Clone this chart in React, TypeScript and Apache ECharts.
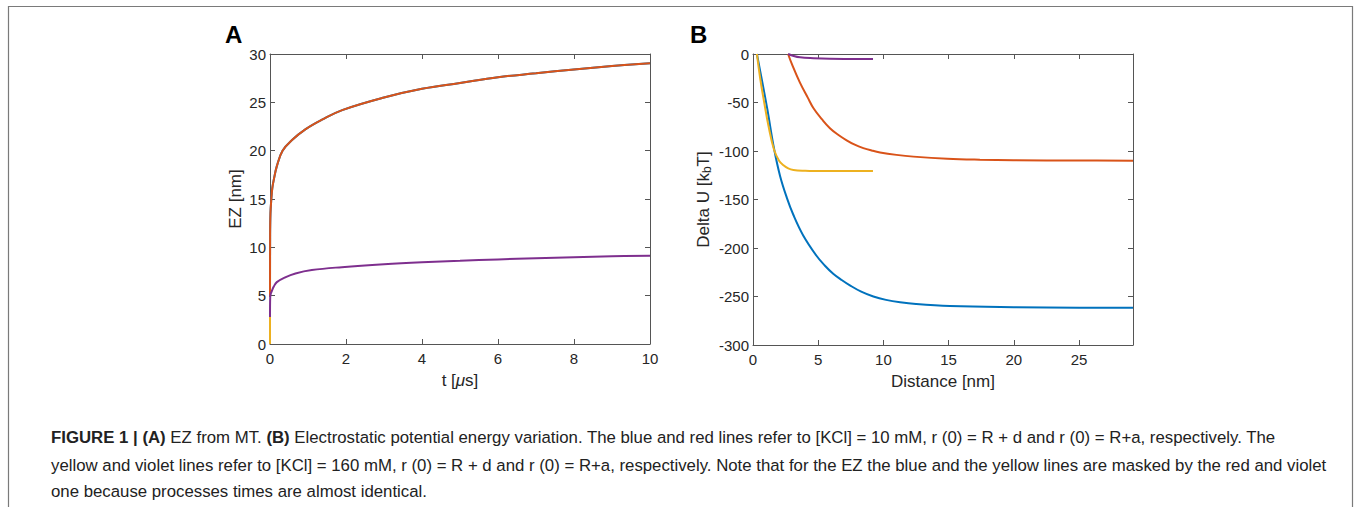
import React, { useEffect, useRef } from "react";
import * as echarts from "echarts";

// ---- Panel A: EZ from MT (t in microseconds, EZ in nm)
const ezRed: [number, number][] = [
  [0, 4.9], [0.003, 11], [0.012, 13.5], [0.035, 15], [0.06, 16.1], [0.1, 17],
  [0.18, 18.4], [0.33, 20], [0.58, 21.1], [0.93, 22.2], [1.37, 23.2], [1.9, 24.2],
  [3, 25.5], [4, 26.4], [5, 27.0], [6, 27.6], [7, 28.0], [8, 28.4], [9, 28.75], [10, 29.05],
];
// blue is masked by the red line (almost identical process times)
const ezBlue: [number, number][] = ezRed;
const ezYellow: [number, number][] = [[0, 0], [0, 2.8]];
const ezViolet: [number, number][] = [
  [0, 2.8], [0.005, 4.8], [0.02, 5.2], [0.05, 5.5], [0.1, 5.95], [0.18, 6.4],
  [0.4, 6.9], [0.67, 7.3], [1.1, 7.65], [1.89, 7.95], [3, 8.25], [4, 8.45],
  [5, 8.6], [6, 8.75], [7, 8.87], [8, 8.97], [9, 9.07], [10, 9.14],
];

// ---- Panel B: Delta U [kbT] vs distance [nm]
const uBlue: [number, number][] = [
  [0.3, 0], [0.7, -28], [1.1, -57], [1.62, -98], [2.08, -126], [2.59, -148],
  [3.1, -166], [3.85, -187], [4.87, -208], [5.5, -218], [6.15, -226.5], [6.8, -233],
  [7.43, -238.5], [8.3, -245], [9.23, -250], [10.2, -253.5], [11.28, -256],
  [12.5, -257.8], [15.1, -259.8], [20, -261], [25, -261.5], [29.14, -261.7],
];
const uRed: [number, number][] = [
  [2.69, 0], [3.0, -11], [3.6, -29.5], [4.2, -45], [4.64, -55.9], [5.3, -67.5],
  [5.9, -76.5], [6.5, -83], [7.18, -89], [7.8, -93.5], [8.46, -97], [9.1, -99.5],
  [9.74, -101.5], [11, -104], [12.3, -105.8], [14.9, -108], [17.4, -109],
  [20, -109.5], [25, -109.8], [29.14, -110],
];
const uYellow: [number, number][] = [
  [0.3, 0], [0.55, -25], [0.86, -50], [1.2, -75], [1.62, -99], [2.0, -110],
  [2.31, -114.5], [2.7, -118], [3.1, -119.6], [4, -120.4], [4.87, -120.6], [9.2, -120.7],
];
const uViolet: [number, number][] = [
  [2.69, 0], [3.0, -1.5], [3.6, -3.4], [4.64, -4.4], [5.9, -5.0], [7, -5.1], [9.2, -5.1],
];

const captionLines = [
  "{b|FIGURE 1 | (A)} EZ from MT. {b|(B)} Electrostatic potential energy variation. The blue and red lines refer to [KCl] = 10 mM, r (0) = R + d and r (0) = R+a, respectively. The",
  "yellow and violet lines refer to [KCl] = 160 mM, r (0) = R + d and r (0) = R+a, respectively. Note that for the EZ the blue and the yellow lines are masked by the red and violet",
  "one because processes times are almost identical.",
];

const BLUE = "#0072BD";
const RED = "#D95319";
const YELLOW = "#EDB120";
const VIOLET = "#7E2F8E";
const AXIS = "#555555";
const TEXT = "#262626";
const FONT = "Liberation Sans, Arial, sans-serif";
const CAP = 16.8;

function mainX(grid: number, min: number, max: number, interval: number, name: string, rich: any) {
  return {
    type: "value", gridIndex: grid, min, max, interval, position: "bottom",
    axisLine: { show: true, onZero: false, lineStyle: { color: AXIS, width: 1 } },
    axisTick: { show: true, inside: true, length: 5, lineStyle: { color: AXIS } },
    axisLabel: { color: TEXT, fontSize: 15, fontFamily: FONT, margin: 7, showMaxLabel: max === 10 },
    splitLine: { show: false },
    name, nameLocation: "middle", nameGap: 28,
    nameTextStyle: { color: TEXT, fontSize: 17, fontFamily: FONT, rich },
  };
}
function boxX(grid: number, min: number, max: number, interval: number) {
  return {
    type: "value", gridIndex: grid, min, max, interval, position: "top",
    axisLine: { show: true, onZero: false, lineStyle: { color: AXIS, width: 1 } },
    axisTick: { show: true, inside: true, length: 5, lineStyle: { color: AXIS } },
    axisLabel: { show: false }, splitLine: { show: false },
  };
}
function mainY(grid: number, min: number, max: number, interval: number, name: string, gap: number, rich: any) {
  return {
    type: "value", gridIndex: grid, min, max, interval, position: "left",
    axisLine: { show: true, onZero: false, lineStyle: { color: AXIS, width: 1 } },
    axisTick: { show: true, inside: true, length: 5, lineStyle: { color: AXIS } },
    axisLabel: { color: TEXT, fontSize: 15, fontFamily: FONT, margin: 4 },
    splitLine: { show: false },
    name, nameLocation: "middle", nameGap: gap,
    nameTextStyle: { color: TEXT, fontSize: 17, fontFamily: FONT, rich },
  };
}
function boxY(grid: number, min: number, max: number, interval: number) {
  return {
    type: "value", gridIndex: grid, min, max, interval, position: "right",
    axisLine: { show: true, onZero: false, lineStyle: { color: AXIS, width: 1 } },
    axisTick: { show: true, inside: true, length: 5, lineStyle: { color: AXIS } },
    axisLabel: { show: false }, splitLine: { show: false },
  };
}
function line(data: [number, number][], color: string, xi: number, yi: number) {
  return {
    type: "line", data, xAxisIndex: xi, yAxisIndex: yi, showSymbol: false, symbol: "none",
    smooth: 0.4,
    lineStyle: { color, width: 2 }, itemStyle: { color }, silent: true,
  };
}

export default function App() {
  const ref = useRef<HTMLDivElement>(null);
  useEffect(() => {
    if (!ref.current) return;
    const chart = echarts.init(ref.current, undefined, { renderer: "svg" });
    const option: any = {
      animation: false,
      backgroundColor: "#ffffff",
      grid: [
        { left: 270, top: 54, width: 380, height: 290 },
        { left: 753, top: 54, width: 380, height: 291 },
      ],
      xAxis: [
        mainX(0, 0, 10, 2, "t [{i|μ}s]", { i: { fontStyle: "italic", fontSize: 17, fontFamily: FONT, color: TEXT } }),
        boxX(0, 0, 10, 2),
        mainX(1, 0, 29.14, 5, "Distance [nm]", {}),
        boxX(1, 0, 29.14, 5),
      ],
      yAxis: [
        mainY(0, 0, 30, 5, "EZ [nm]", 26, {}),
        boxY(0, 0, 30, 5),
        mainY(1, -300, 0, 50, "Delta U [k{sub|b}T]", 40, {
          sub: { fontSize: 12, fontFamily: FONT, color: TEXT, padding: [8, 0, 0, 0] },
        }),
        boxY(1, -300, 0, 50),
      ],
      series: [
        line(ezBlue, BLUE, 0, 0),
        line(ezRed, RED, 0, 0),
        line(ezYellow, YELLOW, 0, 0),
        line(ezViolet, VIOLET, 0, 0),
        line(uBlue, BLUE, 2, 2),
        line(uRed, RED, 2, 2),
        line(uYellow, YELLOW, 2, 2),
        line(uViolet, VIOLET, 2, 2),
      ],
      graphic: [
        { type: "rect", shape: { x: 8.5, y: 6.5, width: 1344, height: 540 }, style: { fill: "none", stroke: "#7a7a7a", lineWidth: 1.2 }, silent: true },
        { type: "text", x: 225, y: 34, style: { text: "A", fontSize: 24, fontWeight: "bold", fontFamily: FONT, fill: "#000", textVerticalAlign: "middle" } },
        { type: "text", x: 690, y: 34, style: { text: "B", fontSize: 24, fontWeight: "bold", fontFamily: FONT, fill: "#000", textVerticalAlign: "middle" } },
        ...captionLines.map((t, i) => ({
          type: "text", x: 51, y: [437, 465, 491][i],
          style: {
            text: t, fontSize: CAP, fontFamily: FONT, fill: "#222", textVerticalAlign: "middle",
            rich: { b: { fontSize: CAP, fontFamily: FONT, fontWeight: "bold", fill: "#222" } },
          },
        })),
      ],
    };
    chart.setOption(option);
    return () => chart.dispose();
  }, []);
  return (
    <div
      ref={ref}
      style={{ position: "fixed", left: 0, top: 0, width: 1354, height: 507, background: "#fff" }}
    />
  );
}
